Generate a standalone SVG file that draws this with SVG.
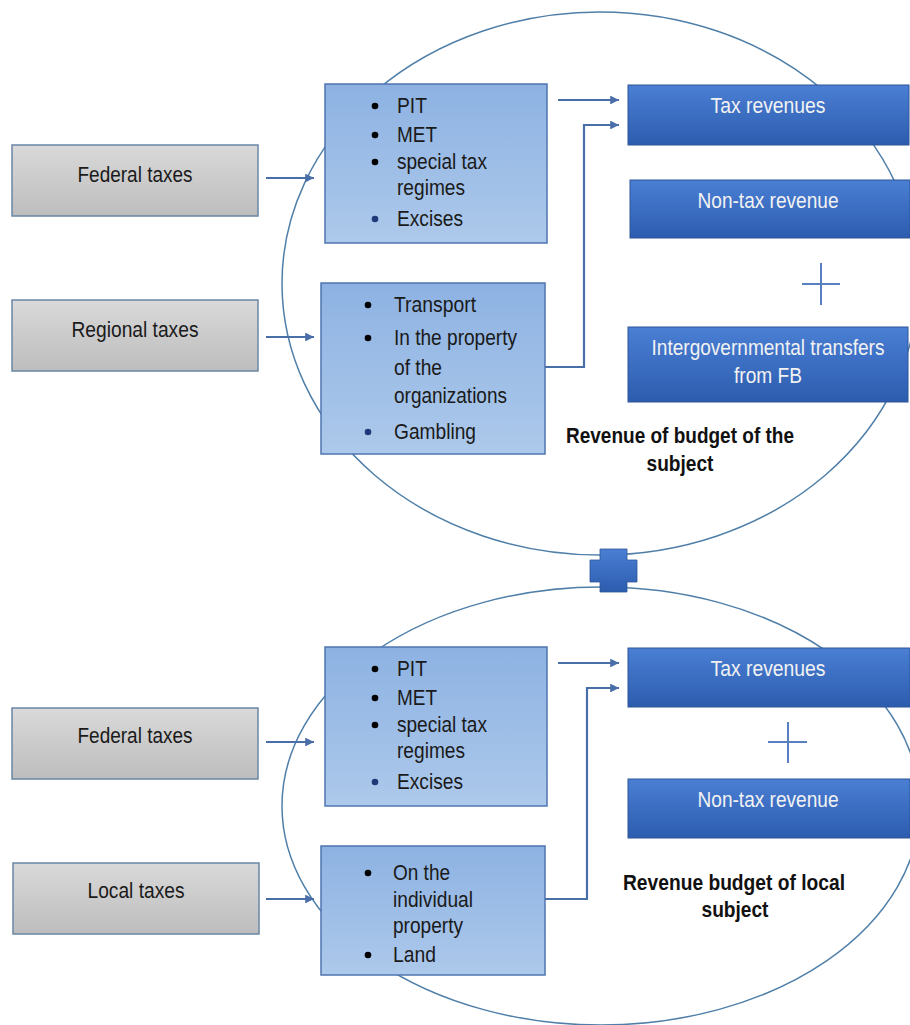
<svg xmlns="http://www.w3.org/2000/svg" width="910" height="1025" viewBox="0 0 910 1025">
  <style>
    text { font-family: "Liberation Sans", Arial, sans-serif; }
    .src rect { fill: url(#gGray); stroke: #6a87a6; stroke-width: 1.5; }
    .src text { font-size: 22px; fill: #1a1a1a; text-anchor: middle; }
    .lst rect { fill: url(#gLight); stroke: #4f74b0; stroke-width: 1.5; }
    .lst text { font-size: 22px; fill: #1a1a1a; }
    .lst circle { fill: #000; }
    .lst circle.navy { fill: #1f3a78; }
    .rev rect { fill: url(#gDark); stroke: #2f5597; stroke-width: 1; }
    .rev text { font-size: 22px; fill: #f2f2f2; text-anchor: middle; }
    .cap text { font-size: 22px; font-weight: bold; fill: #111; text-anchor: middle; }
    .ring { fill: none; stroke: #4f7fa8; stroke-width: 1.5; }
    .conn { fill: none; stroke: #4a6ea8; stroke-width: 2.2; }
    .plus { stroke: #5a7fc0; stroke-width: 2; fill: none; }
  </style>
  <defs>
    <linearGradient id="gGray" x1="0" y1="0" x2="0" y2="1">
      <stop offset="0" stop-color="#d9d9d9"/>
      <stop offset="1" stop-color="#bdbdbd"/>
    </linearGradient>
    <linearGradient id="gLight" x1="0" y1="0" x2="0" y2="1">
      <stop offset="0" stop-color="#8db2e2"/>
      <stop offset="1" stop-color="#adc9eb"/>
    </linearGradient>
    <linearGradient id="gDark" x1="0" y1="0" x2="0" y2="1">
      <stop offset="0" stop-color="#4a7fd4"/>
      <stop offset="1" stop-color="#2c5cae"/>
    </linearGradient>
    <marker id="arr" viewBox="0 0 10 10" refX="10" refY="5" markerWidth="4" markerHeight="4" orient="auto" markerUnits="strokeWidth">
      <path d="M0,0 L10,5 L0,10 z" fill="#4a6ea8"/>
    </marker>
  </defs>

  <rect width="910" height="1025" fill="#ffffff"/>

  <!-- budget rings, drawn beneath the boxes -->
  <ellipse class="ring" cx="600" cy="283.5" rx="318" ry="271.5"/>
  <ellipse class="ring" cx="601" cy="806" rx="319" ry="219"/>

  <!-- joint between the two rings -->
  <path id="joint" d="M600,549 H627 V560 H637 V582 H627 V592 H600 V582 H590 V560 H600 Z" fill="url(#gDark)" stroke="#2f5597" stroke-width="0.8"/>

  <!-- upper budget -->
  <g id="federal-1" class="src">
    <rect x="12" y="145" width="246" height="71"/>
    <text x="135" y="182" textLength="115" lengthAdjust="spacingAndGlyphs">Federal taxes</text>
  </g>
  <g id="regional" class="src">
    <rect x="12" y="300" width="246" height="71"/>
    <text x="135" y="337" textLength="127" lengthAdjust="spacingAndGlyphs">Regional taxes</text>
  </g>
  <g id="federal-list-1" class="lst">
    <rect x="325" y="84" width="222" height="159"/>
    <circle cx="375" cy="106" r="3.3"/><text x="397" y="113" textLength="30" lengthAdjust="spacingAndGlyphs">PIT</text>
    <circle cx="375" cy="135" r="3.3"/><text x="397" y="142" textLength="40" lengthAdjust="spacingAndGlyphs">MET</text>
    <circle cx="375" cy="162" r="3.3"/><text x="397" y="169" textLength="90" lengthAdjust="spacingAndGlyphs">special tax</text>
    <text x="397" y="195" textLength="68" lengthAdjust="spacingAndGlyphs">regimes</text>
    <circle class="navy" cx="375" cy="219" r="3.3"/><text x="397" y="226" textLength="66" lengthAdjust="spacingAndGlyphs">Excises</text>
  </g>
  <g id="regional-list" class="lst">
    <rect x="321" y="283" width="224" height="171"/>
    <circle cx="368" cy="305" r="3.3"/><text x="394" y="312" textLength="82" lengthAdjust="spacingAndGlyphs">Transport</text>
    <circle cx="368" cy="338" r="3.3"/><text x="394" y="345" textLength="123" lengthAdjust="spacingAndGlyphs">In the property</text>
    <text x="394" y="375" textLength="48" lengthAdjust="spacingAndGlyphs">of the</text>
    <text x="394" y="403" textLength="113" lengthAdjust="spacingAndGlyphs">organizations</text>
    <circle class="navy" cx="368" cy="432" r="3.3"/><text x="394" y="439" textLength="82" lengthAdjust="spacingAndGlyphs">Gambling</text>
  </g>
  <g id="tax-1" class="rev">
    <rect x="628" y="85" width="281" height="60"/>
    <text x="768" y="113" textLength="115" lengthAdjust="spacingAndGlyphs">Tax revenues</text>
  </g>
  <g id="nontax-1" class="rev">
    <rect x="630" y="180" width="280" height="58"/>
    <text x="768" y="208" textLength="141" lengthAdjust="spacingAndGlyphs">Non-tax revenue</text>
  </g>
  <g id="transfers" class="rev">
    <rect x="628" y="327" width="280" height="75"/>
    <text x="768" y="355" textLength="233" lengthAdjust="spacingAndGlyphs">Intergovernmental transfers</text>
    <text x="768" y="383" textLength="68" lengthAdjust="spacingAndGlyphs">from FB</text>
  </g>
  <path id="plus-1" class="plus" d="M802,284 H840 M821,263 V305"/>
  <g id="caption-1" class="cap">
    <text x="680" y="443" textLength="228" lengthAdjust="spacingAndGlyphs">Revenue of budget of the</text>
    <text x="680" y="471" textLength="67" lengthAdjust="spacingAndGlyphs">subject</text>
  </g>

  <!-- lower budget -->
  <g id="federal-2" class="src">
    <rect x="12" y="708" width="246" height="71"/>
    <text x="135" y="743" textLength="115" lengthAdjust="spacingAndGlyphs">Federal taxes</text>
  </g>
  <g id="local" class="src">
    <rect x="13" y="863" width="246" height="71"/>
    <text x="136" y="898" textLength="97" lengthAdjust="spacingAndGlyphs">Local taxes</text>
  </g>
  <g id="federal-list-2" class="lst">
    <rect x="325" y="647" width="222" height="159"/>
    <circle cx="375" cy="669" r="3.3"/><text x="397" y="676" textLength="30" lengthAdjust="spacingAndGlyphs">PIT</text>
    <circle cx="375" cy="698" r="3.3"/><text x="397" y="705" textLength="40" lengthAdjust="spacingAndGlyphs">MET</text>
    <circle cx="375" cy="725" r="3.3"/><text x="397" y="732" textLength="90" lengthAdjust="spacingAndGlyphs">special tax</text>
    <text x="397" y="758" textLength="68" lengthAdjust="spacingAndGlyphs">regimes</text>
    <circle class="navy" cx="375" cy="782" r="3.3"/><text x="397" y="789" textLength="66" lengthAdjust="spacingAndGlyphs">Excises</text>
  </g>
  <g id="local-list" class="lst">
    <rect x="321" y="846" width="224" height="129"/>
    <circle cx="368" cy="873" r="3.3"/><text x="393" y="880" textLength="57" lengthAdjust="spacingAndGlyphs">On the</text>
    <text x="393" y="907" textLength="80" lengthAdjust="spacingAndGlyphs">individual</text>
    <text x="393" y="933" textLength="70" lengthAdjust="spacingAndGlyphs">property</text>
    <circle cx="368" cy="955" r="3.3"/><text x="393" y="962" textLength="43" lengthAdjust="spacingAndGlyphs">Land</text>
  </g>
  <g id="tax-2" class="rev">
    <rect x="628" y="648" width="282" height="59"/>
    <text x="768" y="676" textLength="115" lengthAdjust="spacingAndGlyphs">Tax revenues</text>
  </g>
  <g id="nontax-2" class="rev">
    <rect x="628" y="779" width="282" height="59"/>
    <text x="768" y="807" textLength="141" lengthAdjust="spacingAndGlyphs">Non-tax revenue</text>
  </g>
  <path id="plus-2" class="plus" d="M768,742 H807 M788,722 V763"/>
  <g id="caption-2" class="cap">
    <text x="734" y="890" textLength="222" lengthAdjust="spacingAndGlyphs">Revenue budget of local</text>
    <text x="735" y="917" textLength="67" lengthAdjust="spacingAndGlyphs">subject</text>
  </g>

  <!-- connectors -->
  <g id="connectors" class="conn">
    <line x1="266" y1="178" x2="314" y2="178" marker-end="url(#arr)"/>
    <line x1="266" y1="337" x2="314" y2="337" marker-end="url(#arr)"/>
    <line x1="558" y1="100" x2="619" y2="100" marker-end="url(#arr)"/>
    <polyline points="545,367 584,367 584,125 619,125" marker-end="url(#arr)"/>
    <line x1="266" y1="742" x2="314" y2="742" marker-end="url(#arr)"/>
    <line x1="266" y1="899" x2="314" y2="899" marker-end="url(#arr)"/>
    <line x1="558" y1="663" x2="619" y2="663" marker-end="url(#arr)"/>
    <polyline points="545,899 587,899 587,688 619,688" marker-end="url(#arr)"/>
  </g>
</svg>
